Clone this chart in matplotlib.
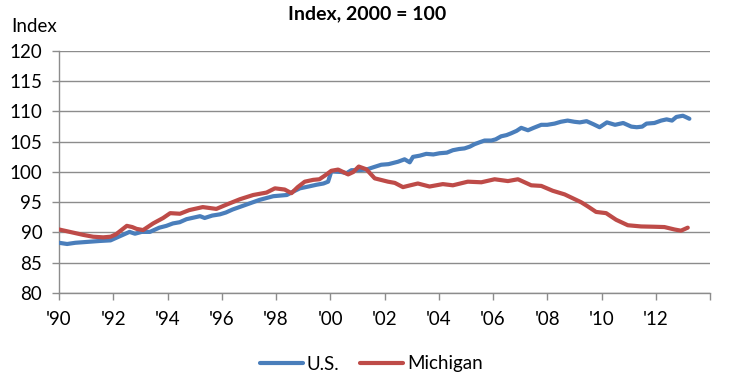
import matplotlib
matplotlib.use("Agg")
import matplotlib.pyplot as plt

plt.rcParams['font.family'] = ['Lato', 'DejaVu Sans']

us_years = [1990.0, 1990.3, 1990.6, 1990.9, 1991.2, 1991.5, 1991.9, 1992.1, 1992.35, 1992.6,
            1992.8, 1993.05, 1993.35, 1993.7, 1993.96, 1994.2, 1994.45, 1994.7, 1995.0, 1995.2,
            1995.37, 1995.65, 1995.93, 1996.15, 1996.4, 1996.65, 1996.9, 1997.15, 1997.4, 1997.65,
            1997.9, 1998.15, 1998.4, 1998.65, 1998.88, 1999.2, 1999.5, 1999.75, 1999.92, 2000.04,
            2000.41, 2000.6, 2000.78, 2001.0, 2001.33, 2001.6, 2001.88, 2002.15, 2002.5, 2002.74,
            2002.93, 2003.05, 2003.3, 2003.54, 2003.8, 2004.03, 2004.3, 2004.52, 2004.75, 2004.95,
            2005.15, 2005.32, 2005.5, 2005.69, 2005.94, 2006.1, 2006.3, 2006.5, 2006.67, 2006.87,
            2007.04, 2007.29, 2007.5, 2007.78, 2008.0, 2008.27, 2008.5, 2008.75, 2009.0, 2009.2,
            2009.45, 2009.7, 2009.93, 2010.2, 2010.5, 2010.8, 2011.1, 2011.3, 2011.5, 2011.66,
            2011.95, 2012.2, 2012.4, 2012.6, 2012.76, 2013.0, 2013.1, 2013.24]
us_values = [88.3, 88.1, 88.3, 88.4, 88.5, 88.6, 88.7, 89.1, 89.6, 90.1,
             89.8, 90.1, 90.1, 90.8, 91.1, 91.5, 91.7, 92.2, 92.5, 92.7,
             92.4, 92.8, 93.0, 93.3, 93.8, 94.2, 94.6, 95.0, 95.4, 95.7,
             96.0, 96.1, 96.2, 96.8, 97.3, 97.6, 97.9, 98.1, 98.4, 100.1,
             100.0, 99.8, 100.3, 100.3, 100.4, 100.8, 101.2, 101.3, 101.7, 102.1,
             101.6, 102.5, 102.7, 103.0, 102.9, 103.1, 103.2, 103.6, 103.8, 103.9,
             104.2, 104.6, 104.9, 105.2, 105.2, 105.4, 105.9, 106.1, 106.4, 106.8,
             107.3, 106.9, 107.3, 107.8, 107.8, 108.0, 108.3, 108.5, 108.3, 108.2,
             108.4, 107.9, 107.4, 108.2, 107.8, 108.1, 107.5, 107.4, 107.5, 108.0,
             108.1, 108.5, 108.7, 108.5, 109.1, 109.3, 109.1, 108.8]

mi_years = [1990.0, 1990.3, 1990.6, 1990.9, 1991.26, 1991.63, 1991.9, 1992.1, 1992.3, 1992.5,
            1992.7, 1992.86, 1993.1, 1993.47, 1993.84, 1994.1, 1994.46, 1994.8, 1995.3, 1995.8,
            1996.17, 1996.67, 1997.16, 1997.65, 1997.96, 1998.32, 1998.57, 1998.8, 1999.06, 1999.37,
            1999.6, 1999.8, 2000.04, 2000.29, 2000.66, 2000.85, 2001.05, 2001.33, 2001.64, 2002.13,
            2002.38, 2002.68, 2002.95, 2003.23, 2003.66, 2004.15, 2004.52, 2005.07, 2005.57, 2006.06,
            2006.55, 2006.92, 2007.41, 2007.78, 2008.2, 2008.64, 2009.25, 2009.5, 2009.8, 2010.17,
            2010.54, 2010.97, 2011.46, 2011.95, 2012.32, 2012.69, 2012.93, 2013.18]
mi_values = [90.5, 90.2, 89.9, 89.6, 89.3, 89.2, 89.3, 89.7, 90.4, 91.1,
             90.9, 90.6, 90.4, 91.5, 92.4, 93.2, 93.1, 93.7, 94.2, 93.9,
             94.6, 95.5, 96.2, 96.6, 97.3, 97.1, 96.5, 97.5, 98.4, 98.7,
             98.8, 99.4, 100.2, 100.4, 99.6, 100.0, 100.9, 100.45, 98.95, 98.4,
             98.2, 97.5, 97.8, 98.1, 97.6, 98.0, 97.8, 98.4, 98.3, 98.8,
             98.5, 98.8, 97.8, 97.7, 96.9, 96.3, 95.0, 94.3, 93.4, 93.2,
             92.1, 91.2, 91.0, 90.95, 90.9, 90.5, 90.3, 90.8]

tick_years = [1990, 1992, 1994, 1996, 1998, 2000, 2002, 2004, 2006, 2008, 2010, 2012, 2014]
tick_labels = ["'90", "'92", "'94", "'96", "'98", "'00", "'02", "'04", "'06", "'08", "'10", "'12", ""]
y_ticks = [80, 85, 90, 95, 100, 105, 110, 115, 120]

fig = plt.figure(figsize=(7.34, 3.84), dpi=100)
ax = fig.add_axes([59/734, 1 - 293/384, (710 - 59)/734, (293 - 51)/384])

grid_col = '#8c8c8c'
ax.plot(us_years, us_values, color='#4A7EBB', lw=3.0, label='U.S.', solid_capstyle='round', zorder=3)
ax.plot(mi_years, mi_values, color='#BE4B48', lw=3.0, label='Michigan', solid_capstyle='round', zorder=3)

ax.set_xlim(1990, 2014)
ax.set_ylim(80, 120)
ax.set_yticks(y_ticks)
ax.set_yticklabels([str(v) for v in y_ticks])
ax.set_xticks(tick_years)
ax.set_xticklabels(tick_labels)

ax.yaxis.grid(True, color=grid_col, lw=1.0)
ax.set_axisbelow(True)
for s in ['top', 'right']:
    ax.spines[s].set_visible(False)
for s in ['left', 'bottom']:
    ax.spines[s].set_color(grid_col)
    ax.spines[s].set_linewidth(1.0)
ax.tick_params(axis='both', colors=grid_col, length=5, width=1.0, direction='out')
ax.tick_params(axis='x', labelcolor='black', labelsize=13.5, pad=8)
ax.tick_params(axis='y', labelcolor='black', labelsize=13.5, pad=7)

fig.text(0.5, 1 - 14/384, 'Index, 2000 = 100', ha='center', va='center', fontsize=14, fontweight='bold')
fig.text(11/734, 1 - 27/384, 'Index', ha='left', va='center', fontsize=13.5)

fig.legend(loc='center', bbox_to_anchor=(0.506, 1 - 364/384), ncol=2, frameon=False,
           fontsize=13.5, handlelength=2.3, columnspacing=1.1, handletextpad=0.2)

fig.savefig('out.png', dpi=100)
